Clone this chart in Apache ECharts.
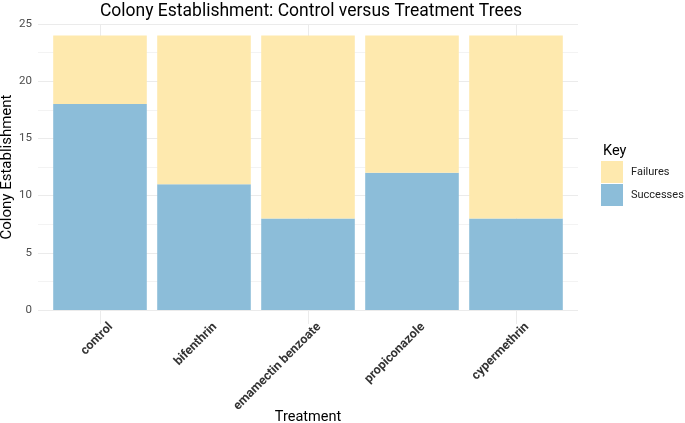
<!DOCTYPE html>
<html>
<head>
<meta charset="utf-8">
<script src="https://cdn.jsdelivr.net/npm/echarts@6/dist/echarts.min.js"></script>
<style>html,body{margin:0;padding:0;background:#fff}#c{width:685px;height:423px}</style>
</head>
<body>
<div id="c"></div>
<script>
const categories = ['control', 'bifenthrin', 'emamectin benzoate', 'propiconazole', 'cypermethrin'];
const successes = [18, 11, 8, 12, 8];
const failures = [6, 13, 16, 12, 16];
const yTicks = [0, 5, 10, 15, 20, 25];

const FONT = 'Roboto, "Noto Sans", sans-serif';
const chart = echarts.init(document.getElementById('c'), null, {renderer: 'canvas'});
chart.setOption({
  backgroundColor: '#fff',
  animation: false,
  textStyle: {fontFamily: FONT},
  title: [
    {text: 'Colony Establishment: Control versus Treatment Trees', left: 306, top: -2, textAlign: 'center',
     textStyle: {fontSize: 17.5, fontWeight: 'normal', color: '#000', fontFamily: FONT}},
    {text: 'Key', left: 598, top: 139, textStyle: {fontSize: 14.5, fontWeight: 'normal', color: '#000', fontFamily: FONT}}
  ],
  legend: {
    orient: 'vertical', left: 601, top: 161, itemWidth: 22, itemHeight: 22, itemGap: 1,
    data: ['Failures', 'Successes'], icon: 'rect', padding: 0,
    textStyle: {fontSize: 11, color: '#222', fontFamily: FONT, padding: [0, 0, 0, 3]}
  },
  grid: [
    {left: 48, right: 117, top: 24, bottom: 113, outerBoundsMode: 'none', containLabel: false},
    {left: 38, right: 107, top: 24, bottom: 113, outerBoundsMode: 'none', containLabel: false},
    {left: 59, right: 106, top: 24, bottom: 113, outerBoundsMode: 'none', containLabel: false}
  ],
  xAxis: [
    {type: 'category', gridIndex: 0, data: categories, position: 'bottom',
     axisLine: {show: false},
     axisTick: {show: true, alignWithLabel: true, length: 14, lineStyle: {color: '#ebebeb'}},
     axisLabel: {show: false},
     name: 'Treatment', nameLocation: 'middle', nameGap: 100, nameMoveOverlap: false,
     nameTextStyle: {fontSize: 14.5, color: '#000', fontFamily: FONT}},
    {type: 'category', gridIndex: 0, data: categories, position: 'top',
     axisLine: {show: false}, axisLabel: {show: false},
     axisTick: {show: true, inside: true, alignWithLabel: true, length: 286, lineStyle: {color: '#ebebeb'}}},
    {type: 'value', gridIndex: 1, show: false, min: 0, max: 1},
    {type: 'category', gridIndex: 2, data: categories, position: 'bottom',
     axisLine: {show: false}, axisTick: {show: false},
     axisLabel: {rotate: 45, fontWeight: 'bold', fontSize: 12.5, color: '#333', margin: 15, interval: 0, fontFamily: FONT}}
  ],
  yAxis: [
    {type: 'value', gridIndex: 0, min: 0, max: 25, show: false, splitLine: {show: false}},
    {type: 'value', gridIndex: 1, min: yTicks[0], max: yTicks[yTicks.length - 1], interval: 5,
     axisLine: {show: false}, axisTick: {show: false},
     axisLabel: {fontSize: 11.5, color: '#4d4d4d', margin: 6, fontFamily: FONT},
     splitLine: {show: true, lineStyle: {color: '#ebebeb', width: 1}},
     minorTick: {show: false, splitNumber: 2},
     minorSplitLine: {show: true, lineStyle: {color: '#f3f3f3', width: 1}},
     name: 'Colony Establishment', nameLocation: 'middle', nameGap: 23, nameMoveOverlap: false,
     nameTextStyle: {fontSize: 15, color: '#000', fontFamily: FONT}},
    {type: 'value', gridIndex: 2, show: false, min: 0, max: 1}
  ],
  series: [
    {name: 'Successes', type: 'bar', stack: 'a', xAxisIndex: 0, yAxisIndex: 0, data: successes,
     barWidth: '90%', itemStyle: {color: '#8CBDD9'}},
    {name: 'Failures', type: 'bar', stack: 'a', xAxisIndex: 0, yAxisIndex: 0, data: failures,
     barWidth: '90%', itemStyle: {color: '#FEE9AE'}}
  ]
});
</script>
</body>
</html>
